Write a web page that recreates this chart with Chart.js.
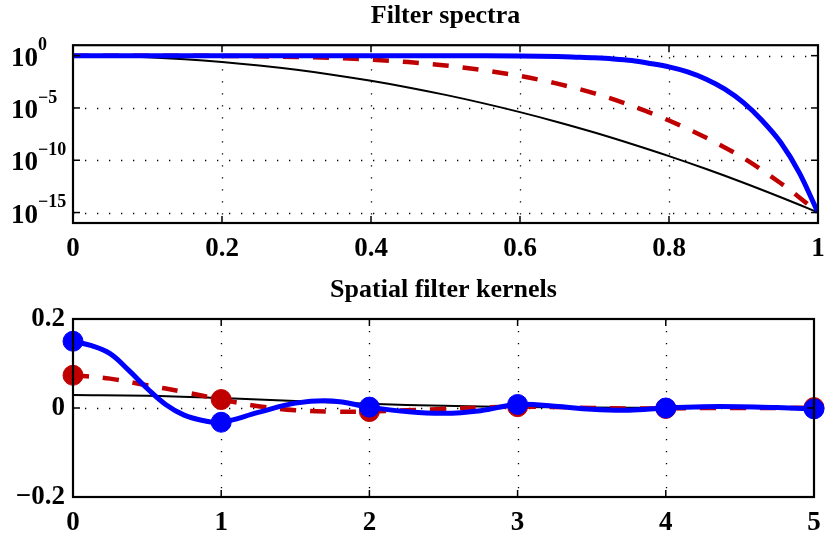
<!DOCTYPE html>
<html>
<head>
<meta charset="utf-8">
<title>Filter spectra and spatial filter kernels</title>
<script src="https://cdn.jsdelivr.net/npm/chart.js@4.4.0/dist/chart.umd.min.js"></script>
<style>
  body { margin: 0; background: #fff; }
  canvas { position: absolute; left: 0; }
  #spectra { top: 0; }
  #kernels { top: 262px; }
</style>
</head>
<body>
<canvas id="spectra" width="825" height="262"></canvas>
<canvas id="kernels" width="825" height="273"></canvas>
<script>
// --- filter spectra (log scale) ---
const specX = [0, 0.05, 0.1, 0.15, 0.2, 0.25, 0.3, 0.35, 0.4, 0.45, 0.5,
  0.55, 0.6, 0.65, 0.7, 0.75, 0.8, 0.85, 0.9, 0.95, 0.975, 1];
const specBlack = [1, 0.917, 0.708, 0.46, 0.251, 0.115, 4.47e-2, 1.45e-2, 3.98e-3, 9.2e-4, 1.78e-4,
  2.9e-5, 4.0e-6, 4.6e-7, 4.5e-8, 3.6e-9, 2.5e-10, 1.45e-11, 7.1e-13, 2.9e-14, 5.5e-15, 1e-15];
const specRed = [1, 1, 0.997, 0.983, 0.946, 0.874, 0.756, 0.596, 0.413, 0.243, 0.116,
  4.2e-2, 1.14e-2, 2.1e-3, 2.5e-4, 1.6e-5, 6.3e-7, 1.4e-8, 1.6e-10, 6.3e-13, 2.8e-14, 1e-15];
// the sharp filter drops late, so it is sampled more finely near the end
const specBlueX = [0, 0.1, 0.2, 0.3, 0.4, 0.5, 0.55, 0.6, 0.65, 0.675, 0.7, 0.725, 0.75, 0.775,
  0.8, 0.825, 0.85, 0.875, 0.9, 0.925, 0.95, 0.975, 1];
const specBlue = [1, 1, 1, 1, 1, 0.99, 0.975, 0.93, 0.82, 0.72, 0.62, 0.49, 0.34, 0.18,
  8.5e-2, 2.8e-2, 5.6e-3, 6.3e-4, 3.2e-5, 6.3e-7, 5e-9, 6.3e-12, 1e-15];
const specXTicks = [0, 0.2, 0.4, 0.6, 0.8, 1];
const specYTicks = [1e-15, 1e-10, 1e-5, 1];

// --- spatial kernels ---
const kernX = [0, 0.25, 0.5, 0.75, 1, 1.25, 1.5, 1.75, 2, 2.25, 2.5,
  2.75, 3, 3.25, 3.5, 3.75, 4, 4.25, 4.5, 4.75, 5];
const kernRed = [0.0735, 0.066, 0.051, 0.036, 0.019, 0.004, -0.005, -0.008, -0.008, -0.005, -0.002,
  0.001, 0.003, 0.002, 0.000, -0.001, -0.001, 0.000, 0.000, 0.000, 0.001];
const blueX = [0, 0.125, 0.25, 0.375, 0.5, 0.625, 0.75, 0.875, 1, 1.25, 1.5, 1.75, 2, 2.25, 2.5,
  2.75, 3, 3.25, 3.5, 3.75, 4, 4.25, 4.5, 4.75, 5];
const kernBlue = [0.150, 0.140, 0.122, 0.085, 0.044, 0.008, -0.016, -0.028, -0.032, -0.010, 0.011, 0.016,
  0.002, -0.008, -0.012, -0.006, 0.008, 0.004, -0.003, -0.005, 0.000, 0.003, 0.003, 0.001, -0.002];
const blackX = [0, 0.5, 1, 1.5, 2, 2.5, 3, 3.5, 4, 4.5, 5];
const kernBlack = [0.029, 0.0275, 0.0225, 0.016, 0.0095, 0.005, 0.0022, 0.001, 0.0003, 0.0001, 0];
const kernXTicks = [0, 1, 2, 3, 4, 5];
const kernYTicks = [-0.2, 0, 0.2];

const SERIF = "'Liberation Serif', 'Times New Roman', serif";
const BLUE = '#0000ff';
const RED = '#c00000';

Chart.defaults.font.family = SERIF;
Chart.defaults.color = '#000';

const pts = (xs, ys) => xs.map((v, i) => ({ x: v, y: ys[i] }));

function line(ctx, x0, y0, x1, y1) {
  ctx.beginPath();
  ctx.moveTo(x0, y0);
  ctx.lineTo(x1, y1);
  ctx.stroke();
}

// dotted grid, box frame and inward tick marks
const boxAxes = {
  id: 'boxAxes',
  beforeDatasetsDraw(chart) {
    const { ctx, chartArea: a, scales: { x, y } } = chart;
    ctx.save();
    ctx.strokeStyle = '#000';
    ctx.lineWidth = 1.3;
    ctx.setLineDash([1.3, 10.7]);
    x.ticks.forEach(t => {
      const px = Math.round(x.getPixelForValue(t.value)) + 0.5;
      if (px > a.left + 3 && px < a.right - 3) line(ctx, px, a.top, px, a.bottom);
    });
    y.ticks.forEach(t => {
      const py = Math.round(y.getPixelForValue(t.value)) + 0.5;
      if (py > a.top + 3 && py < a.bottom - 3) line(ctx, a.left, py, a.right, py);
    });
    ctx.restore();
  },
  afterDatasetsDraw(chart) {
    const { ctx, chartArea: a, scales: { x, y } } = chart;
    const tl = 7;
    ctx.save();
    ctx.strokeStyle = '#000';
    ctx.lineWidth = 1.5;
    x.ticks.forEach(t => {
      const px = x.getPixelForValue(t.value);
      line(ctx, px, a.top, px, a.top + tl);
      line(ctx, px, a.bottom, px, a.bottom - tl);
    });
    y.ticks.forEach(t => {
      const py = y.getPixelForValue(t.value);
      line(ctx, a.left, py, a.left + tl, py);
      line(ctx, a.right, py, a.right - tl, py);
    });
    ctx.lineWidth = 2.2;
    ctx.strokeRect(a.left, a.top, a.right - a.left, a.bottom - a.top);
    ctx.restore();
  }
};

// "10" with a raised exponent for the log axis
const powerLabels = {
  id: 'powerLabels',
  afterDraw(chart) {
    const { ctx, scales: { y } } = chart;
    ctx.save();
    ctx.fillStyle = '#000';
    ctx.textAlign = 'left';
    ctx.textBaseline = 'middle';
    y.ticks.forEach(t => {
      const py = y.getPixelForValue(t.value);
      const exp = Math.round(Math.log10(t.value));
      ctx.font = 'bold 27px ' + SERIF;
      ctx.fillText('10', 11, py + 3);
      const w = ctx.measureText('10').width;
      ctx.font = 'bold 18px ' + SERIF;
      ctx.fillText(exp < 0 ? '\u2212' + Math.abs(exp) : String(exp), 11 + w, py - 10);
    });
    ctx.restore();
  }
};

const tickFont = { family: SERIF, size: 27, weight: 'bold' };
const fmt = v => (v < 0 ? '\u2212' + Math.abs(v) : String(v));

function axes(xMin, xMax, xTicks, yScale, xHeight) {
  return {
    x: {
      type: 'linear', min: xMin, max: xMax,
      grid: { display: false, drawTicks: false },
      border: { display: false },
      afterBuildTicks: s => { s.ticks = xTicks.map(v => ({ value: v })); },
      afterFit: s => { s.height = xHeight; s.paddingLeft = 0; s.paddingRight = 0; },
      ticks: { font: tickFont, padding: 10, maxRotation: 0, autoSkip: false, callback: fmt }
    },
    y: Object.assign({
      grid: { display: false, drawTicks: false },
      border: { display: false },
      afterFit: s => { s.width = 73; }
    }, yScale)
  };
}

function titleOpts(text, bottom) {
  return {
    display: true, text: text, color: '#000', fullSize: false,
    font: { family: SERIF, size: 26, weight: 'bold' },
    padding: { top: 0, bottom: bottom }
  };
}

new Chart(document.getElementById('spectra'), {
  type: 'line',
  data: {
    datasets: [
      { data: pts(specBlueX, specBlue), borderColor: BLUE, borderWidth: 5 },
      { data: pts(specX, specRed), borderColor: RED, borderWidth: 4.5, borderDash: [16, 14] },
      { data: pts(specX, specBlack), borderColor: '#000', borderWidth: 2 }
    ]
  },
  options: {
    responsive: false,
    animation: false,
    layout: { padding: { top: 1, right: 7, bottom: 0, left: 0 } },
    elements: { point: { radius: 0 }, line: { cubicInterpolationMode: 'monotone', borderCapStyle: 'butt' } },
    plugins: { legend: { display: false }, tooltip: { enabled: false }, title: titleOpts('Filter spectra', 13) },
    scales: axes(0, 1, specXTicks, {
      type: 'logarithmic', min: 1e-16, max: 10,
      afterBuildTicks: s => { s.ticks = specYTicks.map(v => ({ value: v })); },
      ticks: { display: false }
    }, 39)
  },
  plugins: [boxAxes, powerLabels]
});

const markerRadius = c => (c.raw && Number.isInteger(c.raw.x) ? 10 : 0);

new Chart(document.getElementById('kernels'), {
  type: 'line',
  data: {
    datasets: [
      { data: pts(blueX, kernBlue), borderColor: BLUE, borderWidth: 5,
        pointRadius: markerRadius, pointBackgroundColor: BLUE, pointBorderColor: BLUE, pointBorderWidth: 1, clip: false },
      { data: pts(kernX, kernRed), borderColor: RED, borderWidth: 4.5, borderDash: [16, 14],
        pointRadius: markerRadius, pointBackgroundColor: RED, pointBorderColor: RED, pointBorderWidth: 1, clip: false },
      { data: pts(blackX, kernBlack), borderColor: '#000', borderWidth: 2, pointRadius: 0 }
    ]
  },
  options: {
    responsive: false,
    animation: false,
    layout: { padding: { top: 12.5, right: 7, bottom: 0, left: 0 } },
    elements: { line: { tension: 0.4, borderCapStyle: 'butt' } },
    plugins: { legend: { display: false }, tooltip: { enabled: false }, title: titleOpts('Spatial filter kernels', 13.3) },
    scales: axes(0, 5, kernXTicks, {
      type: 'linear', min: -0.2, max: 0.2,
      afterBuildTicks: s => { s.ticks = kernYTicks.map(v => ({ value: v })); },
      ticks: { font: tickFont, padding: 8, callback: fmt }
    }, 38)
  },
  plugins: [boxAxes]
});
</script>
</body>
</html>
